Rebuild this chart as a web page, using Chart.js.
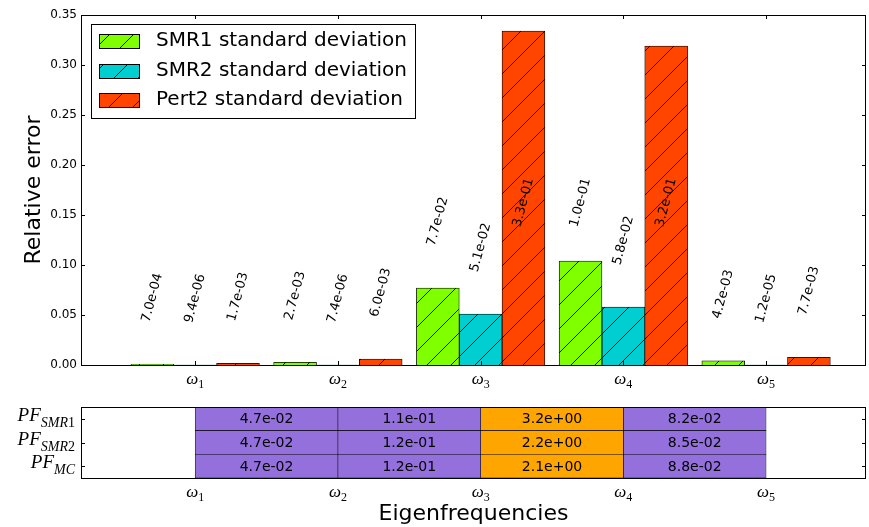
<!DOCTYPE html>
<html>
<head>
<meta charset="utf-8">
<script src="https://cdn.jsdelivr.net/npm/chart.js@4.4.1/dist/chart.umd.min.js"></script>
<style>
  body { margin: 0; background: #fff; }
  #wrap { position: relative; width: 869px; height: 527px; }
  canvas { position: absolute; left: 0; }
</style>
</head>
<body>
<div id="wrap">
  <canvas id="errChart" width="869" height="400" style="top:0"></canvas>
  <canvas id="pfChart" width="869" height="127" style="top:400px"></canvas>
</div>
<script>
// eigenfrequency indices (omega_1 .. omega_5)
const OMEGA_IDX = [1, 2, 3, 4, 5];
const SERIES = ['SMR1 standard deviation', 'SMR2 standard deviation', 'Pert2 standard deviation'];
const SMR1_STD = [7.0e-4, 2.7e-3, 7.7e-2, 1.04e-1, 4.2e-3];
const SMR2_STD = [9.4e-6, 7.4e-6, 5.1e-2, 5.8e-2, 1.2e-5];
const PERT2_STD = [1.7e-3, 6.0e-3, 3.34e-1, 3.19e-1, 7.7e-3];
const Y_TICKS = [0, 0.05, 0.10, 0.15, 0.20, 0.25, 0.30, 0.35];

// failure probabilities between consecutive eigenfrequencies
const PF_ROWS = ['SMR1', 'SMR2', 'MC'];
const PF_SMR1 = [4.7e-2, 1.1e-1, 3.2e+0, 8.2e-2];
const PF_SMR2 = [4.7e-2, 1.2e-1, 2.2e+0, 8.5e-2];
const PF_MC = [4.7e-2, 1.2e-1, 2.1e+0, 8.8e-2];

const COLORS = ['#7fff00', '#00ced1', '#ff4500'];
const PURPLE = '#9370db';
const ORANGE = '#ffa500';
const STD_SERIES = [SMR1_STD, SMR2_STD, PERT2_STD];
const PF_TABLE = [PF_SMR1, PF_SMR2, PF_MC];
const BAR_W = 0.3;

function fmtE(v) {
  const parts = v.toExponential(1).split('e');
  const n = parseInt(parts[1], 10);
  return parts[0] + 'e' + (n < 0 ? '-' : '+') + String(Math.abs(n)).padStart(2, '0');
}

function hatch(ctx, color) {
  const s = 24;
  const c = document.createElement('canvas');
  c.width = s; c.height = s;
  const g = c.getContext('2d');
  g.fillStyle = color;
  g.fillRect(0, 0, s, s);
  g.strokeStyle = '#000';
  g.lineWidth = 0.9;
  g.beginPath();
  g.moveTo(-2, s + 2); g.lineTo(s + 2, -2);
  g.moveTo(-2, 2); g.lineTo(2, -2);
  g.moveTo(s - 2, s + 2); g.lineTo(s + 2, s - 2);
  g.stroke();
  return ctx.createPattern(c, 'repeat');
}

// mathtext-like label: italic letters, upright digits, with a subscript
function drawMath(ctx, base, sub, x, y, align, bs, ss, shift) {
  const font = (ch, size) => (/[0-9]/.test(ch) ? '' : 'italic ') + size + 'px "Liberation Serif"';
  const runs = [];
  for (const ch of base) runs.push([ch, bs, 0]);
  for (const ch of sub) runs.push([ch, ss, shift]);
  let total = 0;
  runs.forEach(r => { ctx.font = font(r[0], r[1]); r.push(ctx.measureText(r[0]).width); total += r[3]; });
  let cx = align === 'right' ? x - total : x - total / 2;
  ctx.textAlign = 'left';
  ctx.textBaseline = 'alphabetic';
  ctx.fillStyle = '#000';
  runs.forEach(r => {
    ctx.font = font(r[0], r[1]);
    ctx.fillText(r[0], cx, y + r[2]);
    cx += r[3];
  });
}

function frame(ctx, a) {
  ctx.strokeStyle = '#000';
  ctx.lineWidth = 1;
  ctx.strokeRect(Math.round(a.left) + 0.5, Math.round(a.top) + 0.5,
    Math.round(a.right) - Math.round(a.left) - 1, Math.round(a.bottom) - Math.round(a.top));
}

const errCtx = document.getElementById('errChart').getContext('2d');
const HATCH = COLORS.map(c => hatch(errCtx, c));

const errDecor = {
  id: 'errDecor',
  afterDatasetsDraw(chart) {
    const { ctx, chartArea: a, scales: { x, y } } = chart;
    ctx.save();
    // value labels, rotated like the original
    ctx.font = '13px "DejaVu Sans"';
    ctx.fillStyle = '#000';
    const th = 75 * Math.PI / 180;
    STD_SERIES.forEach((vals, d) => {
      chart.getDatasetMeta(d).data.forEach((el, i) => {
        const txt = fmtE(vals[i]);
        const L = ctx.measureText(txt).width;
        const bh = L * Math.sin(th) + 11 * Math.cos(th);
        const ay = y.getPixelForValue(Math.min(vals[i] + 0.041, 0.137));
        ctx.save();
        ctx.translate(el.x, ay - bh / 2);
        ctx.rotate(-th);
        ctx.textAlign = 'center';
        ctx.textBaseline = 'middle';
        ctx.fillText(txt, 0, 0);
        ctx.restore();
      });
    });

    frame(ctx, a);
    ctx.beginPath();
    OMEGA_IDX.forEach(v => {
      const px = Math.round(x.getPixelForValue(v)) + 0.5;
      ctx.moveTo(px, a.bottom); ctx.lineTo(px, a.bottom - 4);
      ctx.moveTo(px, a.top); ctx.lineTo(px, a.top + 4);
    });
    Y_TICKS.forEach(v => {
      const py = Math.round(y.getPixelForValue(v)) + 0.5;
      ctx.moveTo(a.left, py); ctx.lineTo(a.left + 4, py);
      ctx.moveTo(a.right, py); ctx.lineTo(a.right - 4, py);
    });
    ctx.stroke();
    OMEGA_IDX.forEach(v => drawMath(ctx, 'ω', String(v), x.getPixelForValue(v), a.bottom + 19, 'center', 17, 12, 4));

    // legend box
    const lx = Math.round(a.left) + 10, ly = Math.round(a.top) + 9;
    ctx.fillStyle = '#fff';
    ctx.fillRect(lx, ly, 324, 94);
    ctx.strokeRect(lx + 0.5, ly + 0.5, 324, 94);
    SERIES.forEach((name, d) => {
      const ry = ly + 10 + Math.round(d * 29.5);
      ctx.fillStyle = HATCH[d];
      ctx.fillRect(lx + 8, ry, 40, 14);
      ctx.lineWidth = 1;
      ctx.strokeRect(lx + 8.5, ry + 0.5, 40, 14);
      ctx.fillStyle = '#000';
      ctx.font = '20px "DejaVu Sans"';
      ctx.textAlign = 'left';
      ctx.textBaseline = 'middle';
      ctx.fillText(name, lx + 65, ry + 7);
    });
    ctx.restore();
  }
};

new Chart(errCtx, {
  type: 'bar',
  data: {
    datasets: STD_SERIES.map((vals, d) => ({
      label: SERIES[d],
      data: vals.map((v, i) => ({ x: OMEGA_IDX[i] + (d - 1) * BAR_W, y: v })),
      backgroundColor: HATCH[d],
      borderColor: '#000',
      borderWidth: 0.8,
      grouped: false,
      barPercentage: 1,
      categoryPercentage: 1
    }))
  },
  options: {
    responsive: false,
    animation: false,
    events: [],
    layout: { padding: { left: 0, top: 15, right: 3, bottom: 0 } },
    plugins: { legend: { display: false }, tooltip: { enabled: false } },
    scales: {
      x: {
        type: 'linear', min: 0.2, max: 5.7,
        offset: false,
        grid: { display: false, drawTicks: false, offset: false },
        border: { display: false },
        ticks: { display: false },
        afterBuildTicks: s => { s.ticks = OMEGA_IDX.map(v => ({ value: v })); },
        afterFit: s => { s.height = 35; }
      },
      y: {
        min: 0, max: 0.35,
        grid: { display: false, drawTicks: false },
        border: { display: false },
        afterBuildTicks: s => { s.ticks = Y_TICKS.map(v => ({ value: v })); },
        ticks: { callback: v => v.toFixed(2), color: '#000', padding: 4, font: { family: 'DejaVu Sans', size: 12 } },
        title: { display: true, text: 'Relative error', color: '#000', padding: { top: 21, bottom: 0 }, font: { family: 'DejaVu Sans', size: 22 } },
        afterFit: s => { s.width = 81; }
      }
    }
  },
  plugins: [errDecor]
});

const pfCtx = document.getElementById('pfChart').getContext('2d');

const pfDecor = {
  id: 'pfDecor',
  afterDatasetsDraw(chart) {
    const { ctx, chartArea: a, scales: { x, y } } = chart;
    ctx.save();
    ctx.font = '14px "DejaVu Sans"';
    ctx.fillStyle = '#000';
    ctx.textAlign = 'center';
    ctx.textBaseline = 'middle';
    chart.data.datasets.forEach((ds, k) => {
      chart.getDatasetMeta(k).data.forEach((el, r) => {
        ctx.fillText(fmtE(PF_TABLE[r][k]), (el.x + el.base) / 2, el.y + 1);
      });
    });
    frame(ctx, a);
    ctx.beginPath();
    PF_ROWS.forEach((_, r) => {
      const py = Math.round(y.getPixelForValue(r)) + 0.5;
      ctx.moveTo(a.left, py); ctx.lineTo(a.left + 4, py);
      ctx.moveTo(a.right, py); ctx.lineTo(a.right - 4, py);
    });
    ctx.stroke();
    PF_ROWS.forEach((name, r) => drawMath(ctx, 'PF', name, a.left - 6, y.getPixelForValue(r) + 2, 'right', 19, 14, 6));
    OMEGA_IDX.forEach(v => drawMath(ctx, 'ω', String(v), x.getPixelForValue(v), a.bottom + 19, 'center', 17, 12, 4));
    ctx.restore();
  }
};

new Chart(pfCtx, {
  type: 'bar',
  data: {
    labels: PF_ROWS,
    datasets: PF_SMR1.map((_, k) => ({
      data: PF_TABLE.map(() => [OMEGA_IDX[k], OMEGA_IDX[k + 1]]),
      backgroundColor: PF_TABLE.map(row => row[k] > 1 ? ORANGE : PURPLE),
      borderColor: '#000',
      borderWidth: 0.6,
      borderSkipped: false,
      grouped: false,
      barPercentage: 1,
      categoryPercentage: 1
    }))
  },
  options: {
    indexAxis: 'y',
    responsive: false,
    animation: false,
    events: [],
    layout: { padding: { left: 0, top: 7, right: 3, bottom: 0 } },
    plugins: { legend: { display: false }, tooltip: { enabled: false } },
    scales: {
      x: {
        type: 'linear', min: 0.2, max: 5.7,
        grid: { display: false, drawTicks: false },
        border: { display: false },
        ticks: { display: false },
        afterBuildTicks: s => { s.ticks = OMEGA_IDX.map(v => ({ value: v })); },
        title: { display: true, text: 'Eigenfrequencies', color: '#000', padding: { top: 0, bottom: 0 }, font: { family: 'DejaVu Sans', size: 22 } },
        afterFit: s => { s.height = 49; }
      },
      y: {
        type: 'category',
        offset: true,
        grid: { display: false, drawTicks: false },
        border: { display: false },
        ticks: { display: false },
        afterFit: s => { s.width = 81; }
      }
    }
  },
  plugins: [pfDecor]
});
</script>
</body>
</html>
